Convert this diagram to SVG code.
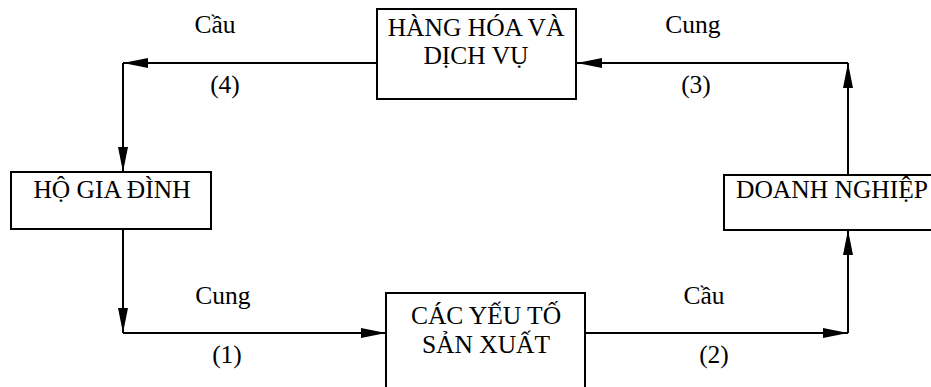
<svg xmlns="http://www.w3.org/2000/svg" width="931" height="387" viewBox="0 0 931 387">
<style>
.box{fill:#fff;stroke:#000;stroke-width:2}
.t{font-family:"Liberation Serif","Times New Roman",serif;font-size:25.5px;fill:#000;text-anchor:middle}
.c{fill:none;stroke:#000;stroke-width:2}
</style>
<defs>
<marker id="arr" viewBox="0 0 25 10" refX="25" refY="5" markerWidth="25" markerHeight="10" markerUnits="userSpaceOnUse" orient="auto">
<path d="M0,0 L25,5 L0,10 z" fill="#000"/>
</marker>
</defs>
<rect width="931" height="387" fill="#fff"/>
<g id="connectors">
<path class="c" d="M376,63 H123" marker-end="url(#arr)"/>
<path class="c" d="M123,63 V172" marker-end="url(#arr)"/>
<path class="c" d="M848,175 V63" marker-end="url(#arr)"/>
<path class="c" d="M848,63 H577" marker-end="url(#arr)"/>
<path class="c" d="M123,229 V333" marker-end="url(#arr)"/>
<path class="c" d="M123,333 H386" marker-end="url(#arr)"/>
<path class="c" d="M585,333 H848" marker-end="url(#arr)"/>
<path class="c" d="M848,333 V230" marker-end="url(#arr)"/>
</g>
<g id="labels">
<text class="t" x="215" y="33">Cầu</text>
<text class="t" x="693" y="33">Cung</text>
<text class="t" x="225" y="93">(4)</text>
<text class="t" x="696" y="93">(3)</text>
<text class="t" x="223" y="304">Cung</text>
<text class="t" x="704" y="304">Cầu</text>
<text class="t" x="227" y="363">(1)</text>
<text class="t" x="714" y="363">(2)</text>
</g>
<g id="hang-hoa">
<rect class="box" x="377" y="9" width="199" height="90"/>
<text class="t" x="476" y="36">HÀNG HÓA VÀ</text>
<text class="t" x="476" y="64">DỊCH VỤ</text>
</g>
<g id="ho-gia-dinh">
<rect class="box" x="11" y="172" width="200" height="57"/>
<text class="t" x="112" y="198">HỘ GIA ĐÌNH</text>
</g>
<g id="doanh-nghiep">
<rect class="box" x="724" y="175" width="230" height="55"/>
<text class="t" x="832" y="198">DOANH NGHIỆP</text>
</g>
<g id="yeu-to">
<rect class="box" x="386" y="293" width="199" height="110"/>
<text class="t" x="486" y="324">CÁC YẾU TỐ</text>
<text class="t" x="486" y="353">SẢN XUẤT</text>
</g>
</svg>
